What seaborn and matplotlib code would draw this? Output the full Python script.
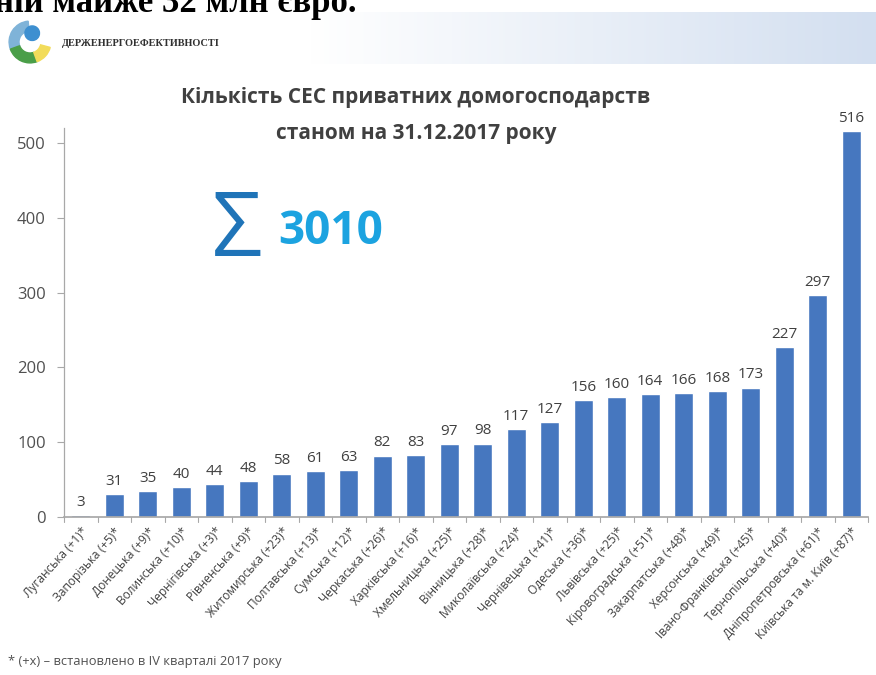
import numpy as np
import pandas as pd
import matplotlib
matplotlib.use("Agg")
import matplotlib.pyplot as plt
import seaborn as sns
from matplotlib.patches import Wedge
from matplotlib.colors import LinearSegmentedColormap

regions = ["Луганська (+1)*", "Запорізька (+5)*", "Донецька (+9)*", "Волинська (+10)*",
           "Чернігівська (+3)*", "Рівненська (+9)*", "Житомирська (+23)*", "Полтавська (+13)*",
           "Сумська (+12)*", "Черкаська (+26)*", "Харківська (+16)*", "Хмельницька (+25)*",
           "Вінницька (+28)*", "Миколаївська (+24)*", "Чернівецька (+41)*", "Одеська (+36)*",
           "Львівська (+25)*", "Кіровоградська (+51)*", "Закарпатська (+48)*", "Херсонська (+49)*",
           "Івано-Франківська (+45)*", "Тернопільська (+40)*", "Дніпропетровська (+61)*",
           "Київська та м. Київ (+87)*"]
counts = [3, 31, 35, 40, 44, 48, 58, 61, 63, 82, 83, 97, 98, 117, 127, 156, 160, 164,
          166, 168, 173, 227, 297, 516]
y_ticks = [0, 100, 200, 300, 400, 500]
total_label = "3010"
title_lines = ["Кількість СЕС приватних домогосподарств", "станом на 31.12.2017 року"]
footnote = "* (+x) – встановлено в IV кварталі 2017 року"
heading = "ній майже 32 млн євро."
org_name = "ДЕРЖЕНЕРГОЕФЕКТИВНОСТІ"

sns.set_theme(style="white")
plt.rcParams['font.family'] = ['Open Sans', 'DejaVu Sans']

W, H = 876, 675
fig = plt.figure(figsize=(W / 100, H / 100), dpi=100)

# header banner gradient
bax = fig.add_axes([310 / W, 1 - 64 / H, 1 - 310 / W, 52 / H])
grad = np.linspace(0, 1, 256).reshape(1, -1)
cm = LinearSegmentedColormap.from_list("g", ["#ffffff", "#d3dff0"])
bax.imshow(grad, aspect="auto", cmap=cm)
bax.axis("off")

# heading text, clipped by the top edge as in the slide screenshot
fig.text(-6 / W, 1 - 12 / H, heading, family=["Liberation Serif", "DejaVu Serif"],
         fontsize=25, fontweight="bold", color="black", va="baseline", ha="left")

# logo
lax = fig.add_axes([8 / W, 1 - 64 / H, 44 / W, 44 / H])
lax.set_xlim(-1, 1); lax.set_ylim(-1, 1); lax.set_aspect("equal"); lax.axis("off")
lax.add_patch(Wedge((0, 0), 0.95, 95, 200, width=0.45, color="#7fb3d8"))
lax.add_patch(Wedge((0, 0), 0.95, 200, 290, width=0.45, color="#4a9e48"))
lax.add_patch(Wedge((0, 0), 0.95, 290, 345, width=0.45, color="#f2dc5a"))
lax.add_patch(Wedge((0.1, 0.4), 0.33, 0, 360, color="#3d8fd0"))
fig.text(62 / W, 1 - 43 / H, org_name, fontsize=7.4, fontweight="bold",
         family=["Liberation Serif", "DejaVu Serif"], color="#303030", va="center", ha="left")

# main chart
df = pd.DataFrame({"region": regions, "count": counts})
ymax = 520
ax = fig.add_axes([64 / W, (H - 517) / H, (868 - 64) / W, ymax * 0.748 / H])
sns.barplot(data=df, x="region", y="count", color="#4677bf", saturation=1, width=0.58, ax=ax)
ax.set_ylim(0, ymax)
ax.set_xlim(-0.5, len(regions) - 0.5)
ax.set_yticks(y_ticks)
ax.set_yticklabels([str(t) for t in y_ticks], fontsize=12, color="#505050")
ax.set_xlabel(""); ax.set_ylabel("")
ax.set_xticks(range(len(regions)))
ax.set_xticklabels(regions, rotation=48, ha="right", rotation_mode="anchor", fontsize=8.6,
                   color="#404040")
for s in ["top", "right"]:
    ax.spines[s].set_visible(False)
ax.spines["bottom"].set_color("#a8a8a8")
ax.spines["left"].set_color("#a8a8a8")
ax.spines["left"].set_linewidth(0.9)
ax.tick_params(axis="y", length=5, width=0.8, color="#a8a8a8", pad=8, left=True)
ax.tick_params(axis="x", length=0, pad=6)
# category separator ticks
for i in range(len(regions) + 1):
    ax.plot([i - 0.5, i - 0.5], [0, -7], color="#a8a8a8", lw=0.8, clip_on=False)
for i, v in enumerate(counts):
    ax.text(i, v + 7, str(v), ha="center", va="bottom", fontsize=11, color="#404040")
ax.patch.set_alpha(0)

fig.text(416 / W, 1 - 97 / H, title_lines[0], ha="center", va="center", fontsize=15,
         fontweight="bold", color="#404040")
fig.text(416 / W, 1 - 133 / H, title_lines[1], ha="center", va="center", fontsize=15,
         fontweight="bold", color="#404040")
fig.text(237 / W, 1 - 233 / H, "Σ", fontsize=64, color="#1f74b8", ha="center", va="center")
fig.text(278 / W, 1 - 232 / H, total_label, fontsize=33, fontweight="bold", color="#1ca3e0",
         ha="left", va="center")
fig.text(8 / W, 1 - 661 / H, footnote, fontsize=9.3, color="#505050", ha="left", va="center")

fig.savefig("out.png", dpi=100)
